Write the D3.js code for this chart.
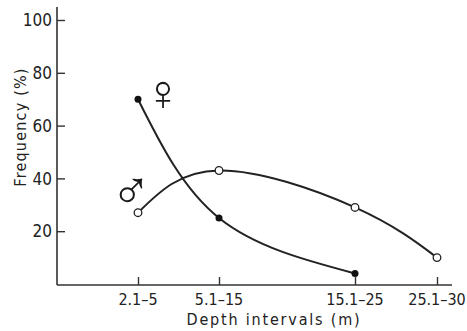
<!DOCTYPE html>
<html>
<head>
<meta charset="utf-8">
<script src="https://cdn.jsdelivr.net/npm/d3@7"></script>
<style>
  body { margin: 0; background: #fff; }
  text { font-family: 'DejaVu Sans Condensed', 'DejaVu Sans', sans-serif; fill: #222; }
  text.sex { font-family: 'Liberation Sans', sans-serif; fill: #1a1a1a; }
</style>
</head>
<body>
<div id="chart"></div>
<script>
// depth intervals (m) and their midpoints
const depthLabels = ['2.1-5', '5.1-15', '15.1-25', '25.1-30']
const depthMid = [3.5, 10, 20, 27.5]

// frequency (%) per interval
const femaleFreq = [70, 25, 4]
const maleFreq = [27, 43, 29, 10]

const yTicks = [20, 40, 60, 80, 100]

const width = 467
const height = 331

const svg = d3
  .select('#chart')
  .append('svg')
  .attr('width', width)
  .attr('height', height)

// intervals are not evenly spaced on the original
const xPositionScale = d3
  .scaleLinear()
  .domain(depthMid)
  .range([138, 219, 355, 437])

const yPositionScale = d3
  .scaleLinear()
  .domain([0, 100])
  .range([284, 20])

const axisX0 = 57
const axisY0 = 285

// AXES
svg
  .append('line')
  .attr('x1', axisX0)
  .attr('y1', 7)
  .attr('x2', axisX0)
  .attr('y2', axisY0)
  .attr('stroke', '#333')
  .attr('stroke-width', 1.6)

svg
  .append('line')
  .attr('x1', axisX0)
  .attr('y1', axisY0)
  .attr('x2', 452)
  .attr('y2', axisY0)
  .attr('stroke', '#333')
  .attr('stroke-width', 1.6)

const yAxis = d3.axisRight(yPositionScale)
  .tickValues(yTicks)
  .tickSize(8)
  .tickFormat('')

svg
  .append('g')
  .attr('class', 'axis y-axis')
  .attr('transform', 'translate(' + axisX0 + ',0)')
  .call(yAxis)
  .call(g => g.select('.domain').remove())
  .call(g => g.selectAll('line').attr('stroke', '#333').attr('stroke-width', 1.4))

svg
  .selectAll('.y-label')
  .data(yTicks)
  .enter()
  .append('text')
  .attr('class', 'y-label')
  .attr('x', 52)
  .attr('y', d => yPositionScale(d))
  .attr('dy', '0.36em')
  .attr('text-anchor', 'end')
  .attr('font-size', 17)
  .text(d => d)

const xAxis = d3.axisTop(xPositionScale)
  .tickValues(depthMid)
  .tickSize(8)
  .tickFormat('')

svg
  .append('g')
  .attr('class', 'axis x-axis')
  .attr('transform', 'translate(0,' + axisY0 + ')')
  .call(xAxis)
  .call(g => g.select('.domain').remove())
  .call(g => g.selectAll('line').attr('stroke', '#333').attr('stroke-width', 1.4))

svg
  .selectAll('.x-label')
  .data(depthMid)
  .enter()
  .append('text')
  .attr('class', 'x-label')
  .attr('x', d => xPositionScale(d))
  .attr('y', 305)
  .attr('text-anchor', 'middle')
  .attr('font-size', 16)
  .text((d, i) => depthLabels[i].replace('-', '\u2013'))

svg
  .append('text')
  .attr('x', 274)
  .attr('y', 325)
  .attr('text-anchor', 'middle')
  .attr('font-size', 16)
  .attr('letter-spacing', 1.8)
  .text('Depth intervals (m)')

svg
  .append('text')
  .attr('transform', 'translate(26,127) rotate(-90)')
  .attr('text-anchor', 'middle')
  .attr('font-size', 16)
  .attr('letter-spacing', 1.2)
  .text('Frequency (%)')

// CURVES
const line = d3.line()
  .x(d => xPositionScale(d.depth))
  .y(d => yPositionScale(d.value))
  .curve(d3.curveNatural)

const femaleData = femaleFreq.map((v, i) => ({ depth: depthMid[i], value: v }))
const maleData = maleFreq.map((v, i) => ({ depth: depthMid[i], value: v }))

svg
  .append('path')
  .datum(femaleData)
  .attr('d', line)
  .attr('fill', 'none')
  .attr('stroke', '#222')
  .attr('stroke-width', 2)

svg
  .append('path')
  .datum(maleData)
  .attr('d', line)
  .attr('fill', 'none')
  .attr('stroke', '#222')
  .attr('stroke-width', 2)

// DOTS
svg.selectAll('.female-point')
  .data(femaleData)
  .enter()
  .append('circle')
  .attr('class', 'female-point')
  .attr('r', 3.5)
  .attr('fill', '#111')
  .attr('cx', d => xPositionScale(d.depth))
  .attr('cy', d => yPositionScale(d.value))

svg.selectAll('.male-point')
  .data(maleData)
  .enter()
  .append('circle')
  .attr('class', 'male-point')
  .attr('r', 3.8)
  .attr('fill', '#fff')
  .attr('stroke', '#222')
  .attr('stroke-width', 1.3)
  .attr('cx', d => xPositionScale(d.depth))
  .attr('cy', d => yPositionScale(d.value))

// SEX SYMBOLS
svg
  .append('text')
  .attr('class', 'sex')
  .attr('x', 163)
  .attr('y', 110)
  .attr('text-anchor', 'middle')
  .attr('font-size', 50)
  .text('\u2640')

svg
  .append('text')
  .attr('class', 'sex')
  .attr('x', 131)
  .attr('y', 209)
  .attr('text-anchor', 'middle')
  .attr('font-size', 54)
  .text('\u2642')
</script>
</body>
</html>
